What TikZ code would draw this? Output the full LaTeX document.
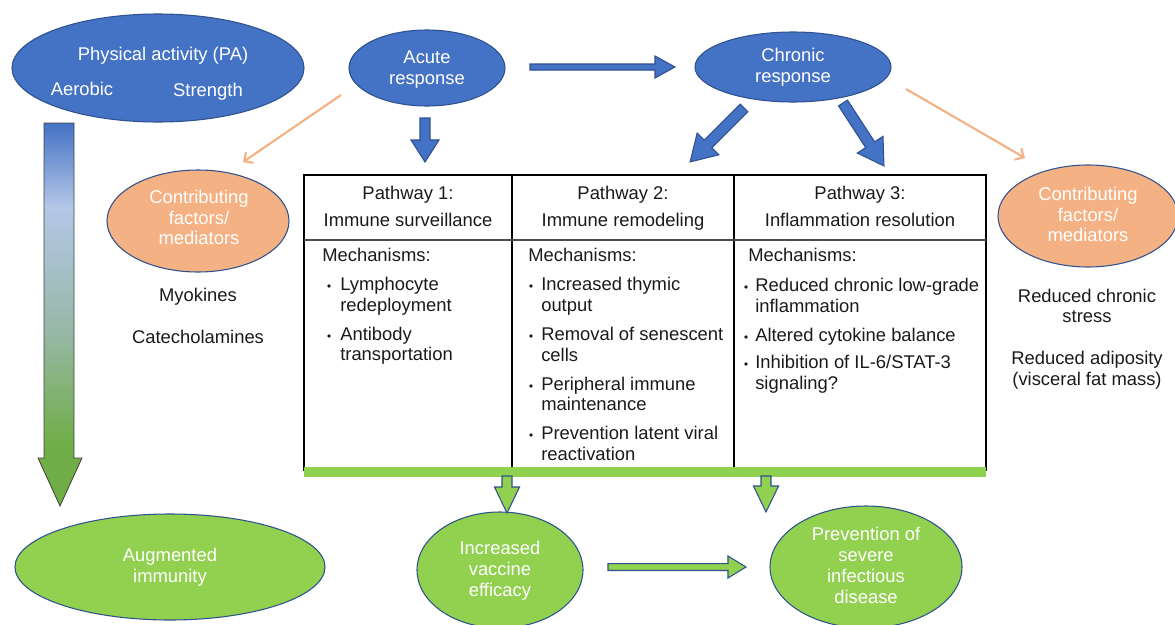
\documentclass[tikz,border=0pt]{standalone}
\usepackage{fontspec}
\setmainfont{Liberation Sans}
\usetikzlibrary{shapes.geometric,calc,arrows.meta}
\definecolor{pablue}{HTML}{4472C4}
\definecolor{paedge}{HTML}{2F528F}
\definecolor{pagreen}{HTML}{92D050}
\definecolor{paorange}{HTML}{F4B183}
\definecolor{palight}{HTML}{B4C7E7}
\definecolor{pamid}{HTML}{98B8A8}
\definecolor{padkgreen}{HTML}{70AD47}
\definecolor{patext}{HTML}{1A1A1A}
\pgfdeclareverticalshading{pagrad}{100bp}{color(0bp)=(padkgreen); color(25bp)=(padkgreen); color(33bp)=(padkgreen); color(48bp)=(pamid); color(64bp)=(palight); color(75bp)=(pablue); color(100bp)=(pablue)}
% fat arrow: style, from, to, half shaft, half head, head length
\newcommand\fatarrow[6]{%
  \path let \p1=($(#3)-(#2)$) in \pgfextra{%
    \pgfmathsetmacro\fatA{atan2(\y1,\x1)}%
    \pgfmathsetmacro\fatL{veclen(\x1,\y1)}%
    \global\let\fatAng\fatA \global\let\fatLen\fatL};
  \draw[#1, shift={(#2)}, rotate=\fatAng]
    (0pt,#4) -- ({\fatLen pt-#6},#4) -- ({\fatLen pt-#6},#5) -- ({\fatLen pt},0pt)
    -- ({\fatLen pt-#6},-#5) -- ({\fatLen pt-#6},-#4) -- (0pt,-#4) -- cycle;
}
\begin{document}
\begin{tikzpicture}[x=0.75pt,y=-0.75pt,
  font=\fontsize{13.8}{15.75}\selectfont,
  ell/.style={ellipse, line width=0.8pt, draw=paedge, inner sep=0pt},
  blueell/.style={ell, fill=pablue},
  greenell/.style={ell, fill=pagreen},
  orangeell/.style={ell, fill=paorange},
  lt/.style={inner sep=0pt, text height=1.0em, text depth=0.17em, anchor=west, text=patext},
  ct/.style={inner sep=0pt, text height=1.0em, text depth=0.17em, text=patext},
  wt/.style={inner sep=0pt, text height=1.0em, text depth=0.17em, text=white},
  bluearrow/.style={fill=pablue, draw=paedge, line width=0.8pt},
  greenarrow/.style={fill=pagreen, draw=paedge, line width=0.8pt},
  oarrow/.style={draw=paorange, line width=1.6pt, -{Straight Barb[length=5pt,width=10pt]}},
  tab/.style={line width=1.2pt, draw=black}
]
\useasboundingbox (0,0) rectangle (1175,625);

% ellipses
\node[blueell, minimum width=219pt, minimum height=81pt] (pa) at (158,68) {};
\node[wt] (pat) at (163,55) {Physical activity (PA)};
\node[wt] (aer) at (82,90) {Aerobic};
\node[wt] (str) at (208,91) {Strength};

\node[blueell, minimum width=117pt, minimum height=57pt] (acute) at (427,68) {};
\node[wt] (acute1) at (427,58) {Acute};
\node[wt] (acute2) at (427,79) {response};

\node[blueell, minimum width=147pt, minimum height=52.5pt] (chronic) at (793,67) {};
\node[wt] (chr1) at (793,56) {Chronic};
\node[wt] (chr2) at (793,77) {response};

\node[orangeell, minimum width=136.5pt, minimum height=76.5pt] (cfl) at (198,221) {};
\node[wt] (cfl1) at (199,198) {Contributing};
\node[wt] (cfl2) at (199,219) {factors/};
\node[wt] (cfl3) at (199,239) {mediators};

\node[orangeell, minimum width=135pt, minimum height=76.5pt] (cfr) at (1088,216) {};
\node[wt] (cfr1) at (1088,195) {Contributing};
\node[wt] (cfr2) at (1088,216) {factors/};
\node[wt] (cfr3) at (1088,236) {mediators};

\node[greenell, minimum width=232.5pt, minimum height=79.5pt] (aug) at (170,567) {};
\node[wt] (aug1) at (170,556) {Augmented};
\node[wt] (aug2) at (170,577) {immunity};

\node[greenell, minimum width=124.5pt, minimum height=87pt] (vac) at (500,570) {};
\node[wt] (vac1) at (500,549) {Increased};
\node[wt] (vac2) at (500,570) {vaccine};
\node[wt] (vac3) at (500,591) {efficacy};

\node[greenell, minimum width=144pt, minimum height=91.5pt] (prev) at (866,567) {};
\node[wt] (prev1) at (866,535) {Prevention of};
\node[wt] (prev2) at (866,556) {severe};
\node[wt] (prev3) at (866,577) {infectious};
\node[wt] (prev4) at (866,598) {disease};

% side texts
\node[ct] (myo) at (198,296) {Myokines};
\node[ct] (cat) at (198,338) {Catecholamines};
\node[ct] (rcs1) at (1087,297) {Reduced chronic};
\node[ct] (rcs2) at (1087,317) {stress};
\node[ct] (rad1) at (1087,359) {Reduced adiposity};
\node[ct] (rad2) at (1087,380) {(visceral fat mass)};

% gradient arrow
\shadedraw[shading=pagrad, draw=black!75, line width=0.6pt]
  (44,123) -- (74,123) -- (74,458) -- (82,458) -- (60,506) -- (38,458) -- (44,458) -- cycle;

% table
\draw[tab] (304,175) rectangle (986,470);
\draw[tab] (512,175) -- (512,470);
\draw[tab] (734,175) -- (734,470);
\draw[line width=1pt, draw=black!70] (304,240) -- (986,240);
\fill[pagreen] (304,467) rectangle (986,477);

\node[ct] (h1a) at (408,194) {Pathway 1:};
\node[ct] (h1b) at (408,221) {Immune surveillance};
\node[ct] (h2a) at (623,194) {Pathway 2:};
\node[ct] (h2b) at (623,221) {Immune remodeling};
\node[ct] (h3a) at (860,194) {Pathway 3:};
\node[ct] (h3b) at (860,221) {Inflammation resolution};

\node[lt] (m1) at (322,256) {Mechanisms:};
\node[lt] (m2) at (528,256) {Mechanisms:};
\node[lt] (m3) at (748,256) {Mechanisms:};

\foreach \yy in {286,336} \fill[patext] (329,\yy) circle (1.4pt);
\node[lt] (a1) at (340,285) {Lymphocyte};
\node[lt] (a2) at (340,306) {redeployment};
\node[lt] (a3) at (340,335) {Antibody};
\node[lt] (a4) at (340,355) {transportation};

\foreach \yy in {286,336,386,435} \fill[patext] (531,\yy) circle (1.4pt);
\node[lt] (b1) at (541,285) {Increased thymic};
\node[lt] (b2) at (541,306) {output};
\node[lt] (b3) at (541,335) {Removal of senescent};
\node[lt] (b4) at (541,356) {cells};
\node[lt] (b5) at (541,385) {Peripheral immune};
\node[lt] (b6) at (541,405) {maintenance};
\node[lt] (b7) at (541,434) {Prevention latent viral};
\node[lt] (b8) at (541,455) {reactivation};

\foreach \yy in {287,337,364} \fill[patext] (746,\yy) circle (1.4pt);
\node[lt] (c1) at (755,286) {Reduced chronic low-grade};
\node[lt] (c2) at (755,307) {inflammation};
\node[lt] (c3) at (755,336) {Altered cytokine balance};
\node[lt] (c4) at (755,363) {Inhibition of IL-6/STAT-3};
\node[lt] (c5) at (755,384) {signaling?};

% arrow end points
\coordinate (hA) at (530,67);  \coordinate (hB) at (675,67);
\coordinate (dA) at (425,118); \coordinate (dB) at (425,162);
\coordinate (lA) at (744,108); \coordinate (lB) at (690,162);
\coordinate (rA) at (843,103); \coordinate (rB) at (884,166);
\coordinate (g1A) at (507,476); \coordinate (g1B) at (507,513);
\coordinate (g2A) at (766,476); \coordinate (g2B) at (766,512);
\coordinate (ghA) at (608,567); \coordinate (ghB) at (746,567);
\coordinate (o1A) at (341,95);  \coordinate (o1B) at (243,162);
\coordinate (o2A) at (906,89);  \coordinate (o2B) at (1025,158);

\fatarrow{bluearrow}{hA}{hB}{2.25pt}{8.25pt}{15pt}
\fatarrow{bluearrow}{dA}{dB}{3.75pt}{10.5pt}{16.5pt}
\fatarrow{bluearrow}{lA}{lB}{4pt}{11.5pt}{19pt}
\fatarrow{bluearrow}{rA}{rB}{4pt}{11.5pt}{19pt}
\fatarrow{greenarrow}{g1A}{g1B}{3.75pt}{9.4pt}{19.5pt}
\fatarrow{greenarrow}{g2A}{g2B}{3.75pt}{9.4pt}{19.5pt}
\fatarrow{greenarrow}{ghA}{ghB}{2.6pt}{8.25pt}{13.5pt}

\draw[oarrow] (o1A) -- (o1B);
\draw[oarrow] (o2A) -- (o2B);
\end{tikzpicture}
\end{document}
